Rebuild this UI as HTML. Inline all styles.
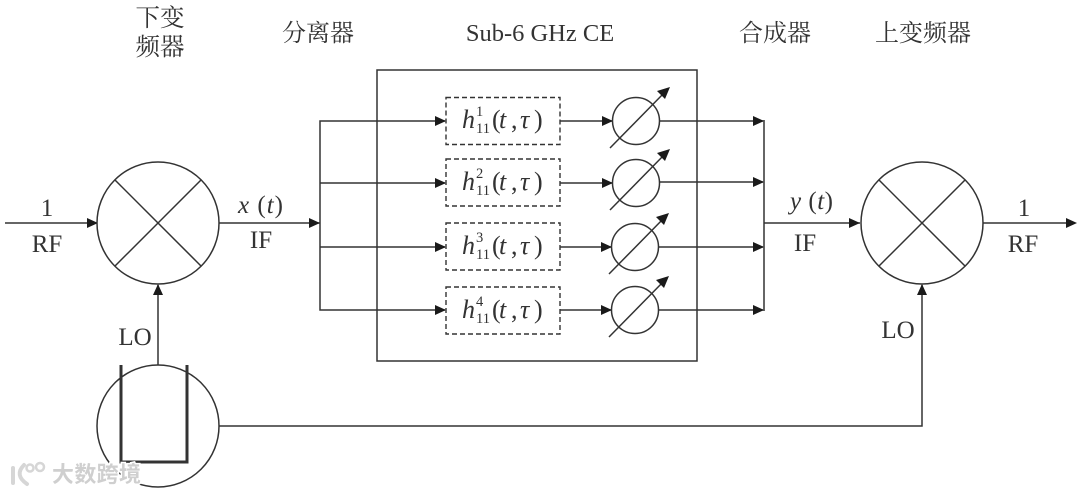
<!DOCTYPE html>
<html><head><meta charset="utf-8"><style>
html,body{margin:0;padding:0;background:#fff;width:1080px;height:493px;overflow:hidden}
svg{display:block}
text{font-family:"Liberation Serif","Noto Serif CJK SC",serif;fill:#333}
.l{stroke:#333;stroke-width:1.5;fill:none}
.c{stroke:#333;stroke-width:1.5;fill:#fff}
.s{font-size:14.5px}
</style></head><body>
<svg width="1080" height="493" viewBox="0 0 1080 493" xmlns="http://www.w3.org/2000/svg">
<defs>
<g id="ah"><polygon points="-11,-5 0,0 -11,5" fill="#1a1a1a"/></g>
<g id="ps">
<circle class="c" cx="0" cy="0" r="23.5"/>
<line class="l" x1="-26" y1="27" x2="29" y2="-29"/>
<polygon points="34,-34 21,-30 29,-22" fill="#1a1a1a"/>
</g>
<g id="hf">
<text x="16" y="31" font-size="26" font-style="italic">h</text>
<text class="s" x="30" y="36">11</text>
<text x="46" y="31" font-size="26">(</text>
<text x="53" y="31" font-size="26" font-style="italic">t</text>
<text x="65" y="31" font-size="26">,</text>
<text x="74" y="31" font-size="26" font-style="italic">τ</text>
<text x="88" y="31" font-size="26">)</text>
</g>
</defs>

<rect x="377" y="70" width="320" height="291" fill="none" stroke="#333" stroke-width="1.5"/>

<!-- left input -->
<line class="l" x1="5" y1="223" x2="97" y2="223"/><use href="#ah" x="98" y="223"/>
<text x="47" y="216" font-size="25" text-anchor="middle">1</text>
<text x="47" y="252" font-size="25" text-anchor="middle">RF</text>

<!-- mixer left -->
<circle class="c" cx="158" cy="223" r="61"/>
<line class="l" x1="115" y1="180" x2="201" y2="266"/>
<line class="l" x1="201" y1="180" x2="115" y2="266"/>

<!-- x(t) -->
<line class="l" x1="219" y1="223" x2="320" y2="223"/><use href="#ah" x="320" y="223"/>
<text x="238" y="213" font-size="25" letter-spacing="1"><tspan font-style="italic">x</tspan> (<tspan font-style="italic">t</tspan>)</text>
<text x="261" y="248" font-size="25" text-anchor="middle">IF</text>

<!-- splitter -->
<polyline class="l" points="445,121 320,121 320,310 445,310"/>
<line class="l" x1="320" y1="183" x2="445" y2="183"/>
<line class="l" x1="320" y1="247" x2="445" y2="247"/>
<use href="#ah" x="446" y="121"/><use href="#ah" x="446" y="183"/><use href="#ah" x="446" y="247"/><use href="#ah" x="446" y="310"/>

<!-- filter boxes -->
<g fill="#fff" stroke="#333" stroke-width="1.4" stroke-dasharray="5 3">
<rect x="446" y="97.5" width="114" height="47"/>
<rect x="446" y="159" width="114" height="47"/>
<rect x="446" y="223" width="114" height="47"/>
<rect x="446" y="287" width="114" height="47"/>
</g>
<use href="#hf" x="446" y="97"/><text class="s" x="476" y="116">1</text>
<use href="#hf" x="446" y="159"/><text class="s" x="476" y="178">2</text>
<use href="#hf" x="446" y="223"/><text class="s" x="476" y="242">3</text>
<use href="#hf" x="446" y="287"/><text class="s" x="476" y="306">4</text>

<!-- filter to phase shifter -->
<line class="l" x1="560" y1="121" x2="612" y2="121"/><use href="#ah" x="613" y="121"/>
<line class="l" x1="560" y1="183" x2="612" y2="183"/><use href="#ah" x="613" y="183"/>
<line class="l" x1="560" y1="247" x2="611" y2="247"/><use href="#ah" x="612" y="247"/>
<line class="l" x1="560" y1="310" x2="611" y2="310"/><use href="#ah" x="612" y="310"/>

<!-- shifter to combiner -->
<line class="l" x1="660" y1="121" x2="763" y2="121"/><use href="#ah" x="764" y="121"/>
<line class="l" x1="660" y1="182" x2="763" y2="182"/><use href="#ah" x="764" y="182"/>
<line class="l" x1="659" y1="247" x2="763" y2="247"/><use href="#ah" x="764" y="247"/>
<line class="l" x1="659" y1="310" x2="763" y2="310"/><use href="#ah" x="764" y="310"/>
<use href="#ps" x="636" y="121"/>
<use href="#ps" x="636" y="183"/>
<use href="#ps" x="635" y="247"/>
<use href="#ps" x="635" y="310"/>

<!-- combiner -->
<line class="l" x1="764" y1="120" x2="764" y2="311"/>
<line class="l" x1="764" y1="223" x2="860" y2="223"/><use href="#ah" x="860" y="223"/>
<text x="790" y="209" font-size="25" letter-spacing="0.5"><tspan font-style="italic">y</tspan> (<tspan font-style="italic">t</tspan>)</text>
<text x="805" y="251" font-size="25" text-anchor="middle">IF</text>

<!-- mixer right -->
<circle class="c" cx="922" cy="223" r="61"/>
<line class="l" x1="879" y1="180" x2="965" y2="266"/>
<line class="l" x1="965" y1="180" x2="879" y2="266"/>
<line class="l" x1="983" y1="223" x2="1066" y2="223"/><use href="#ah" x="1077" y="223"/>
<text x="1024" y="216" font-size="25" text-anchor="middle">1</text>
<text x="1023" y="252" font-size="25" text-anchor="middle">RF</text>

<!-- LO -->
<line class="l" x1="158" y1="365" x2="158" y2="285"/>
<polygon points="158,284 153,295 163,295" fill="#1a1a1a"/>
<text x="135" y="345" font-size="25" text-anchor="middle">LO</text>
<circle class="c" cx="158" cy="426" r="61"/>
<polyline points="121,365 121,462 187,462 187,365" fill="none" stroke="#333" stroke-width="3"/>
<polyline class="l" points="219,426 922,426 922,285"/>
<polygon points="922,284 917,295 927,295" fill="#1a1a1a"/>
<text x="898" y="338" font-size="25" text-anchor="middle">LO</text>

<!-- headers -->
<text x="160" y="26" font-size="24.5" text-anchor="middle">下变</text>
<text x="160" y="55" font-size="24.5" text-anchor="middle">频器</text>
<text x="318" y="41" font-size="24" text-anchor="middle">分离器</text>
<text x="540" y="41" font-size="24.5" text-anchor="middle">Sub-6 GHz CE</text>
<text x="775" y="41" font-size="24" text-anchor="middle">合成器</text>
<text x="923" y="41" font-size="24" text-anchor="middle">上变频器</text>

<!-- watermark -->
<g fill="none" stroke="#d6d6d6" stroke-width="4" stroke-linecap="round">
<path d="M13 468 L13 483 M24 465 Q14 475 27 484"/>
<circle cx="30" cy="468" r="3.5" stroke-width="2.5"/><circle cx="40" cy="467" r="4" stroke-width="2.5"/>
</g>
<text x="52" y="482" font-size="22" textLength="89" stroke="#fff" stroke-width="3" paint-order="stroke" style="fill:#cfcfcf;font-family:'Noto Sans CJK SC',sans-serif;font-weight:700">大数跨境</text>
</svg>
</body></html>
